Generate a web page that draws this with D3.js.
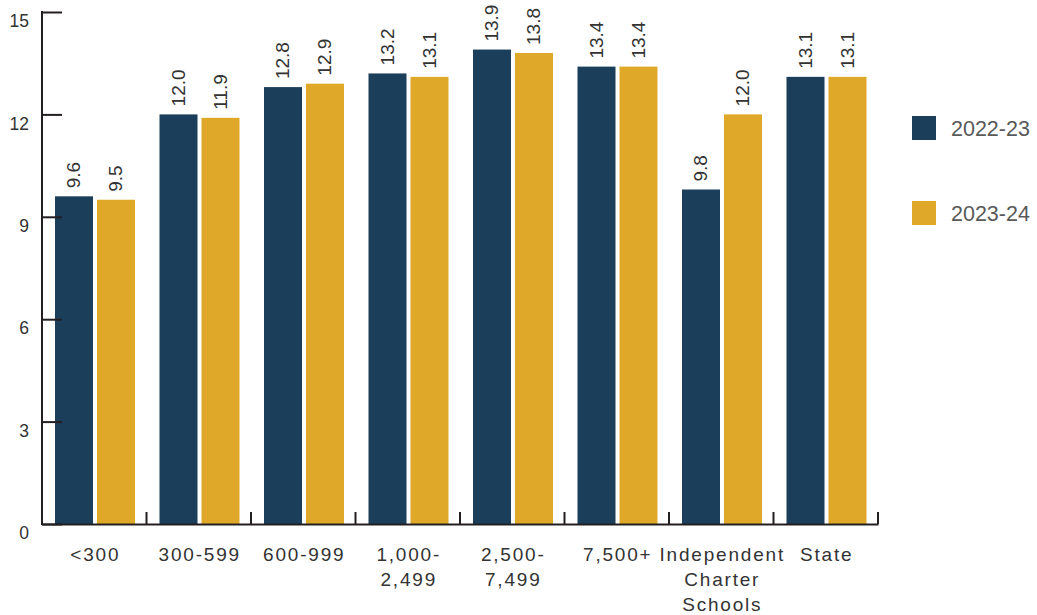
<!DOCTYPE html>
<html>
<head>
<meta charset="utf-8">
<script src="https://cdn.jsdelivr.net/npm/d3@7"></script>
<style>
  html, body { margin: 0; padding: 0; background: #fff; }
  svg { display: block; font-family: "Inter", "Open Sans", sans-serif; }
</style>
</head>
<body>
<svg id="chart" width="1037" height="615"></svg>
<script>
const categories = ["<300", "300-599", "600-999", "1,000-2,499", "2,500-7,499", "7,500+", "Independent Charter Schools", "State"];
const categoryLines = [["<300"], ["300-599"], ["600-999"], ["1,000-", "2,499"], ["2,500-", "7,499"], ["7,500+"], ["Independent", "Charter", "Schools"], ["State"]];
const seriesNames = ["2022-23", "2023-24"];
const values2022 = [9.6, 12.0, 12.8, 13.2, 13.9, 13.4, 9.8, 13.1];
const values2023 = [9.5, 11.9, 12.9, 13.1, 13.8, 13.4, 12.0, 13.1];
const yTicks = [0, 3, 6, 9, 12, 15];
const colors = ["#1b3f5a", "#e0a828"];

const svg = d3.select("#chart");
const mLeft = 42, mRight = 878, mTop = 12, mBottom = 524;
const arial = "'Liberation Sans', Arial, sans-serif";

const x0 = d3.scaleBand().domain(categories).range([mLeft, mRight]).padding(0);
const x1 = d3.scaleBand().domain(seriesNames).range([13, x0.bandwidth() - 11.5]).paddingInner(4 / 42).paddingOuter(0);
const y = d3.scaleLinear().domain([0, 15]).range([mBottom, mTop]);
const color = d3.scaleOrdinal().domain(seriesNames).range(colors);

const rows = categories.map((c, i) => ({ cat: c, vals: [
  { s: seriesNames[0], v: values2022[i] },
  { s: seriesNames[1], v: values2023[i] }
]}));

// bars
const groups = svg.append("g").selectAll("g").data(rows).join("g")
  .attr("transform", d => `translate(${x0(d.cat)},0)`);
groups.selectAll("rect").data(d => d.vals).join("rect")
  .attr("x", d => x1(d.s))
  .attr("y", d => y(d.v))
  .attr("width", x1.bandwidth())
  .attr("height", d => y(0) - y(d.v))
  .attr("fill", d => color(d.s));

// value labels
groups.selectAll("text").data(d => d.vals).join("text")
  .attr("transform", d => `translate(${x1(d.s) + x1.bandwidth() / 2},${y(d.v) - 8}) rotate(-90)`)
  .attr("dy", 6)
  .attr("text-anchor", "start")
  .attr("font-family", arial)
  .attr("font-size", 19)
  .attr("fill", "#333")
  .text(d => d.v.toFixed(1));

// y axis
const yAxis = svg.append("g").attr("transform", `translate(${mLeft},0)`)
  .call(d3.axisLeft(y).tickValues(yTicks).tickSizeInner(-20).tickSizeOuter(0).tickPadding(13).tickFormat(d3.format("d")));
yAxis.select(".domain").remove();
yAxis.selectAll(".tick line").attr("stroke", "#231f20").attr("stroke-width", 2);
yAxis.selectAll(".tick text").attr("font-size", 17.5).attr("fill", "#333").attr("dy", "0.84em").attr("font-family", arial);
svg.append("line").attr("x1", mLeft).attr("x2", mLeft).attr("y1", mTop - 1).attr("y2", mBottom + 1)
  .attr("stroke", "#231f20").attr("stroke-width", 2);

// x axis
const xAxis = svg.append("g").attr("transform", `translate(0,${mBottom})`)
  .call(d3.axisBottom(x0).tickSize(0).tickPadding(0).tickFormat(""));
xAxis.select(".domain").attr("stroke", "#231f20").attr("stroke-width", 2);
svg.append("g").selectAll("line").data(categories).join("line")
  .attr("x1", d => x0(d) + x0.bandwidth()).attr("x2", d => x0(d) + x0.bandwidth())
  .attr("y1", mBottom).attr("y2", mBottom - 12)
  .attr("stroke", "#231f20").attr("stroke-width", 2);
xAxis.selectAll(".tick").each(function(d, i) {
  const t = d3.select(this).append("text")
    .attr("text-anchor", "middle")
    .attr("font-size", 19)
    .attr("letter-spacing", "1.8px")
    .attr("fill", "#333");
  categoryLines[i].forEach((ln, j) => {
    t.append("tspan").attr("x", 1).attr("y", 37 + j * 25).text(ln);
  });
});

// legend
const legend = svg.append("g").selectAll("g").data(seriesNames).join("g")
  .attr("transform", (d, i) => `translate(912,${116 + i * 85})`);
legend.append("rect").attr("width", 24).attr("height", 24).attr("fill", d => color(d));
legend.append("text").attr("x", 39).attr("y", 12).attr("dy", "0.36em")
  .attr("font-family", arial)
  .attr("font-size", 21.5).attr("fill", "#595959").text(d => d);
</script>
</body>
</html>
